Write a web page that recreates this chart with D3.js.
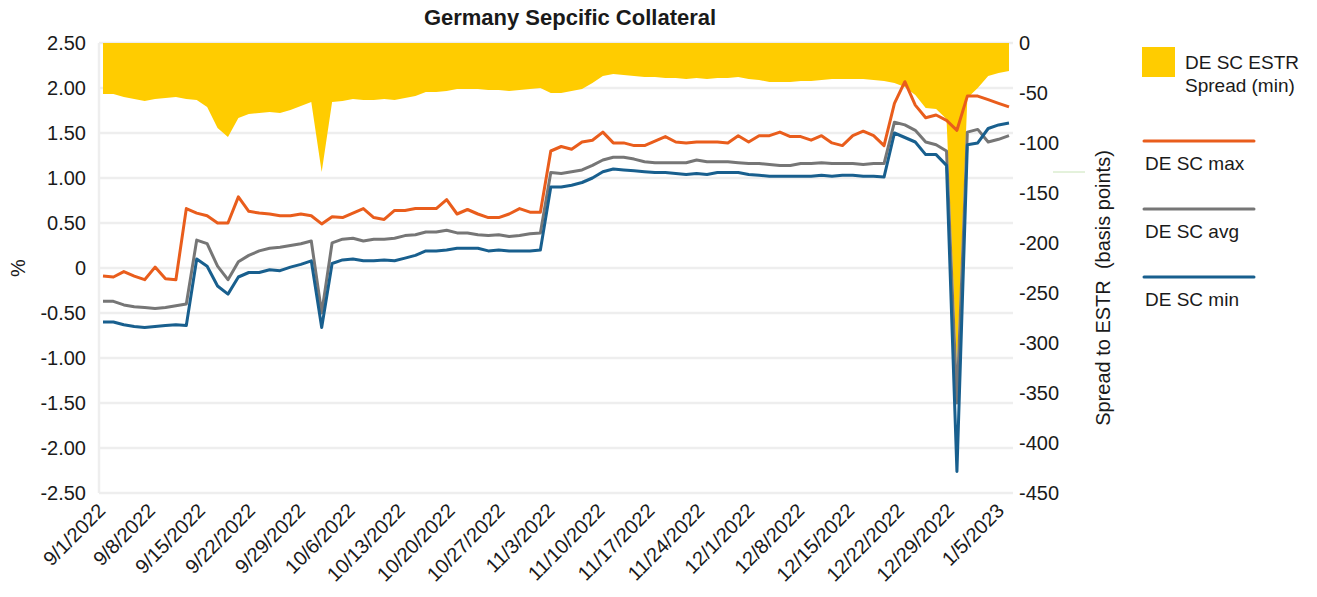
<!DOCTYPE html>
<html>
<head>
<meta charset="utf-8">
<script src="https://cdn.jsdelivr.net/npm/d3@7"></script>
<style>
  body { margin: 0; background: #fff; }
  svg { font-family: "Liberation Sans", Arial, sans-serif; }
</style>
</head>
<body>
<script>
// business days in the chart (one point per day)
const dates = [
  '9/1/2022','9/2/2022','9/5/2022','9/6/2022','9/7/2022','9/8/2022','9/9/2022','9/12/2022','9/13/2022','9/14/2022',
  '9/15/2022','9/16/2022','9/19/2022','9/20/2022','9/21/2022','9/22/2022','9/23/2022','9/26/2022','9/27/2022','9/28/2022',
  '9/29/2022','9/30/2022','10/3/2022','10/4/2022','10/5/2022','10/6/2022','10/7/2022','10/11/2022','10/12/2022','10/13/2022',
  '10/14/2022','10/17/2022','10/18/2022','10/19/2022','10/20/2022','10/21/2022','10/24/2022','10/25/2022','10/26/2022','10/27/2022',
  '10/28/2022','10/31/2022','11/1/2022','11/2/2022','11/3/2022','11/4/2022','11/7/2022','11/8/2022','11/9/2022','11/10/2022',
  '11/14/2022','11/15/2022','11/16/2022','11/17/2022','11/18/2022','11/21/2022','11/22/2022','11/23/2022','11/25/2022','11/28/2022',
  '11/29/2022','11/30/2022','12/1/2022','12/2/2022','12/5/2022','12/6/2022','12/7/2022','12/8/2022','12/9/2022','12/12/2022',
  '12/13/2022','12/14/2022','12/15/2022','12/16/2022','12/19/2022','12/20/2022','12/21/2022','12/22/2022','12/23/2022','12/27/2022',
  '12/28/2022','12/29/2022','12/30/2022','1/2/2023','1/3/2023','1/4/2023','1/5/2023','1/6/2023'
];

// DE SC ESTR spread (min), basis points (right axis)
const spreadMin = [
  -51,-51,-54,-56,-58,-56,-55,-54,-56,-57,
  -64,-85,-94,-75,-71,-70,-69,-70,-67,-63,
  -59,-129,-59,-58,-56,-57,-57,-56,-57,-55,
  -53,-49,-49,-48,-46,-46,-46,-47,-47,-48,
  -47,-46,-45,-50,-50,-48,-46,-40,-33,-31,
  -32,-33,-34,-34,-35,-35,-36,-35,-36,-35,
  -35,-34,-36,-37,-39,-39,-39,-38,-38,-37,
  -36,-36,-36,-36,-37,-38,-40,-44,-52,-65,
  -66,-76,-325,-55,-45,-33,-30,-28
];

// rates in % (left axis)
const scMax = [
  -0.09,-0.10,-0.04,-0.09,-0.13,0.01,-0.12,-0.13,0.66,0.61,
  0.58,0.50,0.50,0.79,0.63,0.61,0.60,0.58,0.58,0.60,
  0.58,0.49,0.57,0.56,0.61,0.66,0.56,0.54,0.64,0.64,
  0.66,0.66,0.66,0.76,0.60,0.65,0.60,0.56,0.56,0.60,
  0.66,0.62,0.62,1.30,1.35,1.32,1.40,1.42,1.51,1.39,
  1.39,1.36,1.36,1.41,1.46,1.40,1.39,1.40,1.40,1.40,
  1.39,1.47,1.40,1.47,1.47,1.51,1.46,1.46,1.42,1.47,
  1.39,1.36,1.47,1.52,1.47,1.36,1.83,2.07,1.81,1.67,
  1.70,1.64,1.53,1.91,1.91,1.87,1.83,1.79
];

const scAvg = [
  -0.37,-0.37,-0.41,-0.43,-0.44,-0.45,-0.44,-0.42,-0.40,0.31,
  0.27,0.02,-0.13,0.07,0.14,0.19,0.22,0.23,0.25,0.27,
  0.30,-0.50,0.28,0.32,0.33,0.30,0.32,0.32,0.33,0.36,
  0.37,0.40,0.40,0.42,0.39,0.39,0.37,0.36,0.37,0.35,
  0.36,0.38,0.39,1.06,1.05,1.07,1.09,1.14,1.20,1.23,
  1.23,1.21,1.18,1.17,1.17,1.17,1.17,1.20,1.18,1.18,
  1.18,1.17,1.16,1.16,1.15,1.14,1.14,1.16,1.16,1.17,
  1.16,1.16,1.16,1.15,1.16,1.16,1.62,1.59,1.53,1.40,
  1.37,1.30,-1.50,1.51,1.54,1.40,1.43,1.47
];

const scMin = [
  -0.60,-0.60,-0.63,-0.65,-0.66,-0.65,-0.64,-0.63,-0.64,0.10,
  0.02,-0.20,-0.29,-0.10,-0.05,-0.05,-0.02,-0.03,0.01,0.04,
  0.08,-0.66,0.05,0.09,0.10,0.08,0.08,0.09,0.08,0.11,
  0.14,0.19,0.19,0.20,0.22,0.22,0.22,0.19,0.20,0.19,
  0.19,0.19,0.20,0.90,0.90,0.92,0.95,1.00,1.07,1.10,
  1.09,1.08,1.07,1.06,1.06,1.05,1.04,1.05,1.04,1.06,
  1.06,1.06,1.04,1.03,1.02,1.02,1.02,1.02,1.02,1.03,
  1.02,1.03,1.03,1.02,1.02,1.01,1.50,1.45,1.40,1.26,
  1.26,1.14,-2.26,1.37,1.39,1.55,1.59,1.61
];

const leftTicks = [2.5, 2, 1.5, 1, 0.5, 0, -0.5, -1, -1.5, -2, -2.5];
const rightTicks = [0, -50, -100, -150, -200, -250, -300, -350, -400, -450];
const axisStart = '9/1/2022';
const axisEnd = '1/6/2023';

const series = [
  { name: 'DE SC max', values: scMax, color: '#e95d1c' },
  { name: 'DE SC avg', values: scAvg, color: '#767676' },
  { name: 'DE SC min', values: scMin, color: '#185f8e' }
];

const width = 1317;
const height = 597;
const margin = { top: 43, right: 308, bottom: 104, left: 103 };
const plotRight = width - margin.right;
const plotBottom = height - margin.bottom;

const parseDate = d3.timeParse('%m/%d/%Y');

// one slot per business day for the marks
const x = d3.scalePoint().domain(dates).range([margin.left, plotRight]);
// calendar scale for the weekly labels
const xTime = d3.scaleTime()
  .domain([parseDate(axisStart), parseDate(axisEnd)])
  .range([margin.left, plotRight]);
const yL = d3.scaleLinear().domain([-2.5, 2.5]).range([plotBottom, margin.top]);
const yR = d3.scaleLinear().domain([-450, 0]).range([plotBottom, margin.top]);

const svg = d3.select('body').append('svg')
  .attr('width', width)
  .attr('height', height);

svg.append('rect').attr('width', width).attr('height', height).attr('fill', '#fff');

// gridlines
svg.append('g')
  .selectAll('line')
  .data(leftTicks)
  .join('line')
  .attr('x1', margin.left - 4)
  .attr('x2', plotRight + 4)
  .attr('y1', d => yL(d))
  .attr('y2', d => yL(d))
  .attr('stroke', '#eeeeee')
  .attr('stroke-width', 2.5);

svg.append('line')
  .attr('x1', margin.left - 4).attr('x2', margin.left - 4)
  .attr('y1', margin.top).attr('y2', plotBottom)
  .attr('stroke', '#eeeeee')
  .attr('stroke-width', 2.5);

// spread area hanging from zero
const area = d3.area()
  .x((d, i) => x(dates[i]))
  .y0(yR(0))
  .y1(d => yR(d));

svg.append('path')
  .attr('d', area(spreadMin))
  .attr('fill', '#ffcc00');

const line = d3.line()
  .x((d, i) => x(dates[i]))
  .y(d => yL(d));

series.forEach(s => {
  svg.append('path')
    .attr('d', line(s.values))
    .attr('fill', 'none')
    .attr('stroke', s.color)
    .attr('stroke-width', 3)
    .attr('stroke-linejoin', 'round');
});

// left axis
const yAxisL = d3.axisLeft(yL)
  .tickValues(leftTicks)
  .tickSize(0)
  .tickPadding(0)
  .tickFormat(d => d === 0 ? '0' : d.toFixed(2));

svg.append('g')
  .attr('transform', 'translate(86,0)')
  .call(yAxisL)
  .call(g => g.select('.domain').remove())
  .selectAll('text')
  .attr('font-size', 20)
  .attr('fill', '#1a1a1a')
  .attr('font-family', '"Liberation Sans", Arial, sans-serif');

// right axis
const yAxisR = d3.axisRight(yR)
  .tickValues(rightTicks)
  .tickSize(0)
  .tickPadding(0)
  .tickFormat(d => String(d));

svg.append('g')
  .attr('transform', 'translate(1019,0)')
  .call(yAxisR)
  .call(g => g.select('.domain').remove())
  .selectAll('text')
  .attr('font-size', 20)
  .attr('fill', '#1a1a1a')
  .attr('font-family', '"Liberation Sans", Arial, sans-serif');

// bottom axis, weekly labels
const weekTicks = d3.timeThursday.range(parseDate(axisStart), d3.timeDay.offset(parseDate(axisEnd), 1));
const xAxis = d3.axisBottom(xTime)
  .tickValues(weekTicks)
  .tickSize(0)
  .tickFormat(d3.timeFormat('%-m/%-d/%Y'));

svg.append('g')
  .attr('transform', 'translate(0,' + plotBottom + ')')
  .call(xAxis)
  .call(g => g.select('.domain').remove())
  .selectAll('text')
  .attr('x', 0)
  .attr('y', 0)
  .attr('dy', 0)
  .attr('text-anchor', 'end')
  .attr('transform', 'translate(3,19) rotate(-45)')
  .attr('font-size', 20)
  .attr('fill', '#1a1a1a')
  .attr('font-family', '"Liberation Sans", Arial, sans-serif');

// titles
svg.append('text')
  .attr('x', 570)
  .attr('y', 25)
  .attr('text-anchor', 'middle')
  .attr('font-size', 22)
  .attr('font-weight', 'bold')
  .attr('fill', '#1a1a1a')
  .text('Germany Sepcific Collateral');

svg.append('text')
  .attr('transform', 'translate(25,268) rotate(-90)')
  .attr('text-anchor', 'middle')
  .attr('font-size', 20)
  .attr('fill', '#1a1a1a')
  .text('%');

svg.append('text')
  .attr('transform', 'translate(1110,288) rotate(-90)')
  .attr('text-anchor', 'middle')
  .attr('font-size', 20)
  .attr('fill', '#1a1a1a')
  .style('white-space', 'pre')
  .text('Spread to ESTR  (basis points)');

// stray green mark next to the right axis title
svg.append('line')
  .attr('x1', 1053).attr('x2', 1085)
  .attr('y1', 172).attr('y2', 172)
  .attr('stroke', '#c9e4b8')
  .attr('stroke-width', 1);

// legend
const legend = svg.append('g');
legend.append('rect')
  .attr('x', 1142).attr('y', 47)
  .attr('width', 33).attr('height', 30)
  .attr('fill', '#ffcc00');
legend.append('text')
  .attr('x', 1185).attr('y', 69)
  .attr('font-size', 19)
  .attr('fill', '#1a1a1a')
  .text('DE SC ESTR');
legend.append('text')
  .attr('x', 1185).attr('y', 92)
  .attr('font-size', 19)
  .attr('fill', '#1a1a1a')
  .text('Spread (min)');

series.forEach((s, i) => {
  const ly = 141 + i * 68;
  legend.append('line')
    .attr('x1', 1144).attr('x2', 1254)
    .attr('y1', ly).attr('y2', ly)
    .attr('stroke', s.color)
    .attr('stroke-width', 3)
    .attr('stroke-linecap', 'round');
  legend.append('text')
    .attr('x', 1145).attr('y', ly + 29)
    .attr('font-size', 19)
    .attr('fill', '#1a1a1a')
    .text(s.name);
});
</script>
</body>
</html>
